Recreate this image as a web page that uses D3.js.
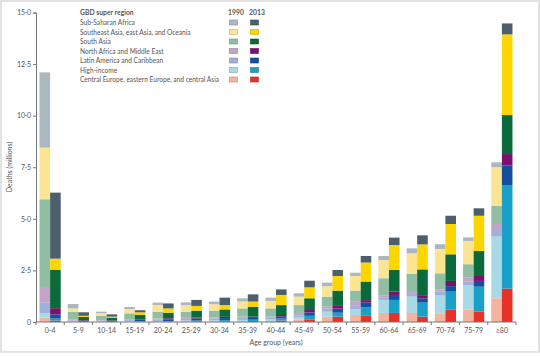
<!DOCTYPE html>
<html><head><meta charset="utf-8">
<script src="https://cdn.jsdelivr.net/npm/d3@7/dist/d3.min.js"></script>
<style>body{margin:0;background:#fff}svg{display:block}text{font-family:Lato,"Open Sans",sans-serif;fill:#555}</style>
</head><body><svg id="c" width="540" height="356"></svg>
<script>
const ageGroups = ["0-4","5-9","10-14","15-19","20-24","25-29","30-34","35-39","40-44","45-49","50-54","55-59","60-64","65-69","70-74","75-79","≥80"];
const years = ["1990","2013"];
// stacking order bottom -> top
const regions = ["Central Europe, eastern Europe, and central Asia","High-income","Latin America and Caribbean","North Africa and Middle East","South Asia","Southeast Asia, east Asia, and Oceania","Sub-Saharan Africa"];
const colors1990 = ["#f3b39c","#a8d9e6","#a0b0d8","#c4a3c9","#90bea2","#fbe592","#abb8c0"];
const colors2013 = ["#e5332a","#18a0c6","#144f9d","#7b116f","#0b6a39","#fdd500","#4c5f6d"];
// deaths (millions) per age group, values in region order above
const deaths1990 = [
 [0.22,0.20,0.53,0.70,4.30,2.50,3.65],
 [0.02,0.02,0.04,0.04,0.38,0.16,0.21],
 [0.02,0.02,0.03,0.03,0.20,0.13,0.07],
 [0.02,0.02,0.05,0.04,0.29,0.21,0.10],
 [0.02,0.03,0.07,0.05,0.33,0.32,0.12],
 [0.03,0.04,0.08,0.05,0.30,0.32,0.13],
 [0.03,0.05,0.09,0.05,0.33,0.31,0.13],
 [0.04,0.06,0.10,0.06,0.40,0.33,0.16],
 [0.05,0.07,0.08,0.06,0.40,0.36,0.16],
 [0.12,0.10,0.10,0.12,0.38,0.41,0.16],
 [0.26,0.24,0.15,0.09,0.49,0.51,0.17],
 [0.34,0.28,0.20,0.16,0.54,0.71,0.16],
 [0.44,0.63,0.13,0.10,0.82,0.88,0.20],
 [0.44,0.79,0.17,0.10,0.83,1.00,0.24],
 [0.42,0.86,0.19,0.10,0.79,1.18,0.23],
 [0.61,1.18,0.16,0.20,0.65,1.13,0.17],
 [1.15,2.99,0.32,0.29,0.87,1.88,0.24]
];
const deaths2013 = [
 [0.07,0.10,0.20,0.30,1.85,0.55,3.20],
 [0.01,0.01,0.03,0.03,0.17,0.05,0.17],
 [0.01,0.01,0.03,0.02,0.14,0.05,0.11],
 [0.02,0.02,0.06,0.03,0.21,0.13,0.10],
 [0.02,0.03,0.08,0.05,0.27,0.21,0.24],
 [0.03,0.04,0.10,0.05,0.33,0.23,0.29],
 [0.04,0.05,0.10,0.06,0.36,0.21,0.36],
 [0.05,0.06,0.09,0.06,0.48,0.25,0.35],
 [0.07,0.10,0.10,0.07,0.48,0.49,0.27],
 [0.13,0.17,0.16,0.12,0.57,0.53,0.32],
 [0.26,0.19,0.20,0.13,0.74,0.71,0.29],
 [0.30,0.42,0.22,0.12,0.90,0.92,0.32],
 [0.44,0.63,0.24,0.16,1.05,1.21,0.36],
 [0.26,0.68,0.21,0.15,1.25,1.21,0.44],
 [0.61,0.86,0.27,0.25,1.29,1.47,0.40],
 [0.50,1.21,0.28,0.24,1.21,1.71,0.36],
 [1.62,5.02,0.94,0.56,1.89,3.91,0.53]
];
const yTicks = [0,2.5,5,7.5,10,12.5,15];

const svg = d3.select("#c");
// frame
svg.append("rect").attr("x",1).attr("y",1).attr("width",538).attr("height",351)
  .attr("fill","none").attr("stroke","#e2e2e2").attr("stroke-width",2);

const m = {l:36, r:516, t:12.5, b:322};
const x = d3.scaleBand().domain(ageGroups).range([m.l, m.r]).paddingInner(0.25).paddingOuter(0.125);
const xs = d3.scaleBand().domain(years).range([0, x.bandwidth()]);
const y = d3.scaleLinear().domain([0,15]).range([m.b, m.t]);

const fmt = v => v===0 ? "0" : d3.format(".1f")(v).replace(".", "·");

// bars
const data = {"1990":deaths1990, "2013":deaths2013};
const cols = {"1990":colors1990, "2013":colors2013};
years.forEach(yr => {
  const rows = ageGroups.map((a,i)=>{const o={age:a}; regions.forEach((r,j)=>o[r]=data[yr][i][j]); return o;});
  const stack = d3.stack().keys(regions)(rows);
  stack.forEach((layer,j)=>{
    svg.append("g").selectAll("rect").data(layer).join("rect")
      .attr("x", d=>x(d.data.age)+xs(yr))
      .attr("width", xs.bandwidth())
      .attr("y", d=>y(d[1]))
      .attr("height", d=>y(d[0])-y(d[1]))
      .attr("fill", cols[yr][j]);
  });
});

// y axis
const ya = svg.append("g").attr("transform",`translate(${m.l},0)`)
  .call(d3.axisLeft(y).tickValues(yTicks).tickFormat(fmt).tickSize(3).tickPadding(2));
ya.select(".domain").attr("stroke","#777");
ya.selectAll(".tick line").attr("stroke","#777");
ya.selectAll("text").attr("font-size",7).attr("fill","#666").style("font-family","Lato, sans-serif");

// x axis
const step = x.step();
const xa = svg.append("g").attr("transform",`translate(0,${m.b})`);
xa.append("line").attr("x1",m.l).attr("x2",m.r).attr("stroke","#777");
d3.range(ageGroups.length+1).forEach(i=>{
  const xx = m.l + i*step;
  xa.append("line").attr("x1",xx).attr("x2",xx).attr("y1",0).attr("y2",3).attr("stroke","#777");
});
xa.selectAll("text.lab").data(ageGroups).join("text").attr("class","lab")
  .attr("x", d=>x(d)+x.bandwidth()/2).attr("y",11).attr("text-anchor","middle")
  .attr("font-size",7).text(d=>d);

svg.append("text").attr("x",276).attr("y",345).attr("text-anchor","middle").attr("font-size",7).text("Age group (years)");
svg.append("text").attr("transform","translate(12,167) rotate(-90)").attr("text-anchor","middle").attr("font-size",7).text("Deaths (millions)");

// legend
const lg = svg.append("g");
lg.append("text").attr("x",80).attr("y",15).attr("font-size",6.8).attr("font-weight","bold").attr("fill","#444").text("GBD super region");
lg.append("text").attr("x",236).attr("y",15).attr("text-anchor","middle").attr("font-size",6.8).attr("font-weight","bold").attr("fill","#444").text(years[0]);
lg.append("text").attr("x",257).attr("y",15).attr("text-anchor","middle").attr("font-size",6.8).attr("font-weight","bold").attr("fill","#444").text(years[1]);
const order = regions.map((r,j)=>j).reverse();
order.forEach((j,k)=>{
  const yy = 22.5 + k*9.5;
  lg.append("text").attr("x",80).attr("y",yy+2.5).attr("font-size",6.6).text(regions[j]);
  lg.append("rect").attr("x",229.5).attr("y",yy-2.5).attr("width",8).attr("height",5)
    .attr("fill",colors1990[j]).attr("stroke",d3.color(colors1990[j]).darker(0.7)).attr("stroke-width",0.6);
  lg.append("rect").attr("x",250.5).attr("y",yy-2.5).attr("width",8).attr("height",5)
    .attr("fill",colors2013[j]).attr("stroke",d3.color(colors2013[j]).darker(0.7)).attr("stroke-width",0.6);
});
</script></body></html>
